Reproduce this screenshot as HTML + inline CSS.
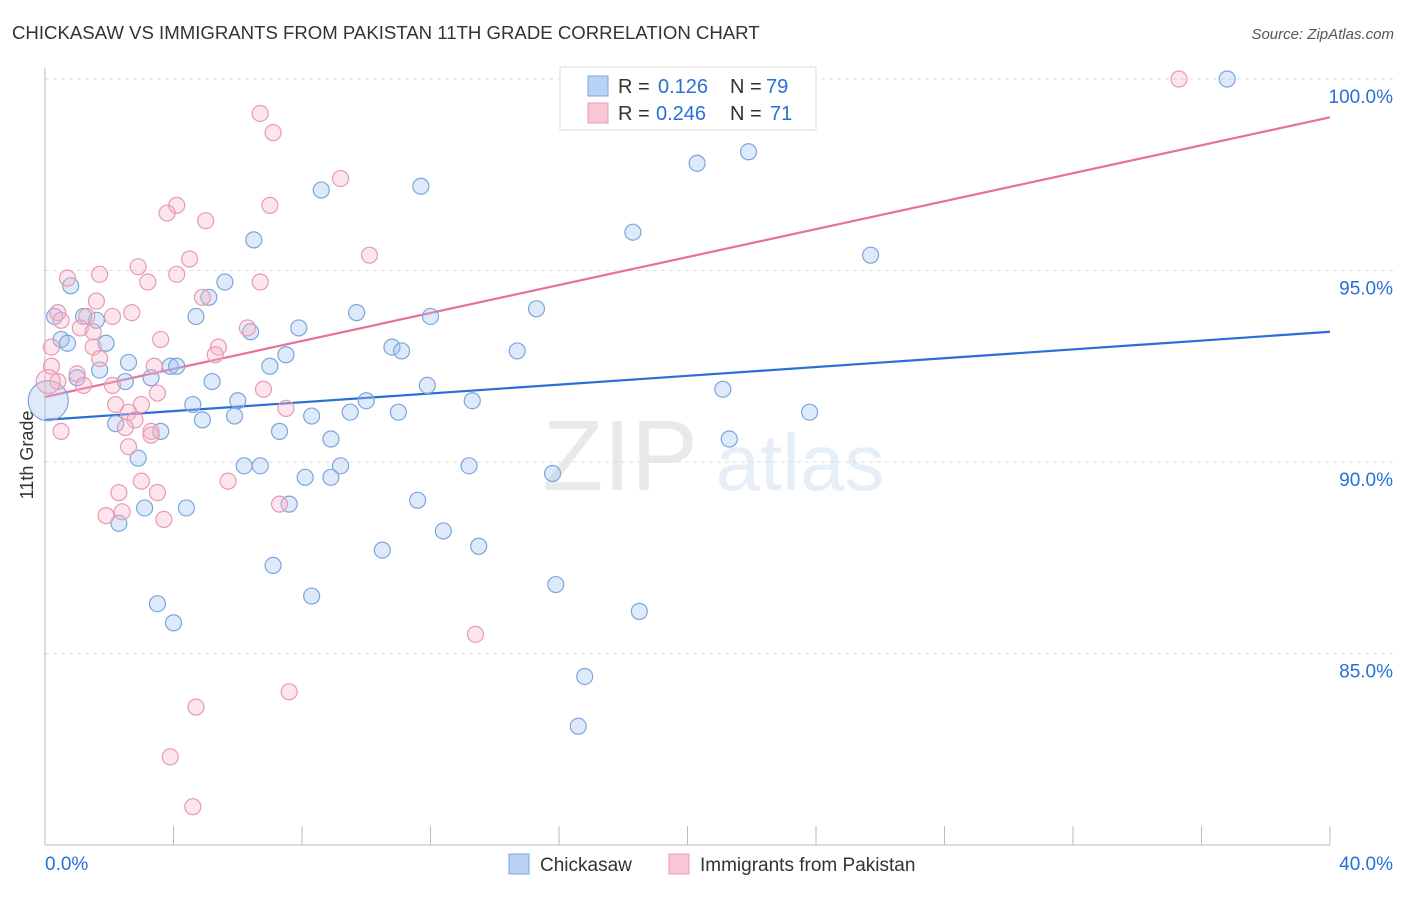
<!DOCTYPE html>
<html><head><meta charset="utf-8"><style>
body{margin:0;background:#fff;font-family:"Liberation Sans",sans-serif}
svg text{font-family:"Liberation Sans",sans-serif}
</style></head><body>
<svg id="chart" width="1406" height="892" xmlns="http://www.w3.org/2000/svg">
<text x="12" y="39" font-size="18.6" fill="#333">CHICKASAW VS IMMIGRANTS FROM PAKISTAN 11TH GRADE CORRELATION CHART</text>
<text x="1394" y="39" font-size="15" fill="#555" text-anchor="end" font-style="italic">Source: ZipAtlas.com</text>
<text transform="translate(33,455) rotate(-90)" font-size="18" fill="#333" text-anchor="middle">11th Grade</text>
<g opacity="0.18">
<text x="620" y="490" font-size="100" font-family="Liberation Serif" fill="#888" text-anchor="middle">ZIP</text>
<text x="800" y="490" font-size="80" fill="#7aa6dc" text-anchor="middle">atlas</text>
</g>
<g id="grid"></g><g id="axes"></g><g id="lines"></g><g id="pts"></g>
<g>
<rect x="560" y="67" width="256" height="63" fill="#fff" stroke="#ddd"/>
<rect x="588" y="76" width="20" height="20" fill="#b9d3f5" stroke="#7aa6dc"/>
<text x="618" y="93" font-size="20" fill="#333">R =</text><text x="658" y="93" font-size="20" fill="#2a6fd6">0.126</text>
<text x="730" y="93" font-size="20" fill="#333">N =</text><text x="766" y="93" font-size="20" fill="#2a6fd6">79</text>
<rect x="588" y="103" width="20" height="20" fill="#f8c6d6" stroke="#e89ab4"/>
<text x="618" y="120" font-size="20" fill="#333">R =</text><text x="656" y="120" font-size="20" fill="#2a6fd6">0.246</text>
<text x="730" y="120" font-size="20" fill="#333">N =</text><text x="770" y="120" font-size="20" fill="#2a6fd6">71</text>
</g>
<g>
<rect x="509" y="854" width="20" height="20" fill="#b9d3f5" stroke="#7aa6dc"/>
<text x="540" y="871" font-size="19" fill="#333">Chickasaw</text>
<rect x="669" y="854" width="20" height="20" fill="#f8c6d6" stroke="#e89ab4"/>
<text x="700" y="871" font-size="19" fill="#333">Immigrants from Pakistan</text>
</g>
</svg>
<script>
const blueX=[36.8,21.9,20.3,11.7,8.6,18.3,6.5,25.7,0.8,5.6,5.1,15.3,9.7,12.0,4.7,0.3,1.6,1.2,7.9,6.4,0.5,0.7,1.9,10.8,11.1,14.7,7.5,2.6,1.7,7.0,3.9,4.1,3.3,1.0,2.5,5.2,11.9,21.1,10.0,6.0,13.3,4.6,9.5,11.0,23.8,8.3,4.9,5.9,2.2,3.6,7.3,8.9,21.3,2.9,6.2,6.7,9.2,13.2,15.8,8.1,8.9,7.6,11.6,3.1,4.4,2.3,12.4,13.5,10.5,7.1,15.9,8.3,3.5,18.5,4.0,16.8,16.6,0.1];
const blueY=[100.0,98.1,97.8,97.2,97.1,96.0,95.8,95.4,94.6,94.7,94.3,94.0,93.9,93.8,93.8,93.8,93.7,93.8,93.5,93.4,93.2,93.1,93.1,93.0,92.9,92.9,92.8,92.6,92.4,92.5,92.5,92.5,92.2,92.2,92.1,92.1,92.0,91.9,91.6,91.6,91.6,91.5,91.3,91.3,91.3,91.2,91.1,91.2,91.0,90.8,90.8,90.6,90.6,90.1,89.9,89.9,89.9,89.9,89.7,89.6,89.6,88.9,89.0,88.8,88.8,88.4,88.2,87.8,87.7,87.3,86.8,86.5,86.3,86.1,85.8,84.4,83.1,91.6];
const pinkX=[35.3,16.4,6.7,7.1,9.2,7.0,4.1,3.8,5.0,10.1,4.5,2.9,0.7,1.7,4.1,3.2,6.7,4.9,1.6,0.4,1.3,2.1,2.7,0.5,1.1,1.5,6.3,3.6,5.4,5.3,1.5,0.2,1.7,0.2,1.0,3.4,0.4,1.2,2.1,6.8,3.5,3.0,2.2,7.5,2.6,2.8,2.5,3.3,3.3,2.6,0.5,5.7,2.3,3.5,3.0,7.3,1.9,2.4,3.7,13.4,7.6,4.7,3.9,4.6,0.1];
const pinkY=[100.0,100.0,99.1,98.6,97.4,96.7,96.7,96.5,96.3,95.4,95.3,95.1,94.8,94.9,94.9,94.7,94.7,94.3,94.2,93.9,93.8,93.8,93.9,93.7,93.5,93.4,93.5,93.2,93.0,92.8,93.0,93.0,92.7,92.5,92.3,92.5,92.1,92.0,92.0,91.9,91.8,91.5,91.5,91.4,91.3,91.1,90.9,90.8,90.7,90.4,90.8,89.5,89.2,89.2,89.5,88.9,88.6,88.7,88.5,85.5,84.0,83.6,82.3,81.0,92.1];
const blueTrend=[91.1,93.4];
const pinkTrend=[91.7,99.0];
const yTicks=[100,95,90,85];
const yTickLabels=["100.0%","95.0%","90.0%","85.0%"];
const xTicks=[0,4,8,12,16,20,24,28,32,36,40];
const xEndLabels=["0.0%","40.0%"];
const NS="http://www.w3.org/2000/svg";
const X=v=>45+v*1285/40, Y=v=>79+(100-v)*38.3;
function mk(t,a,p){const e=document.createElementNS(NS,t);for(const k in a)e.setAttribute(k,a[k]);document.getElementById(p).appendChild(e);return e;}
yTicks.forEach((t,i)=>{
 const l=mk('line',{x1:45,x2:1393,y1:Y(t),y2:Y(t),stroke:'#ddd','stroke-dasharray':'4,4'},'grid');
 
 
 const tx=mk('text',{x:1393,y:Y(t)+24,'font-size':19,fill:'#2a6fd6','text-anchor':'end'},'axes');tx.textContent=yTickLabels[i];
 
 
});
const ax=mk('line',{x1:45,x2:1330,y1:845,y2:845,stroke:'#bbb'},'axes');


const ay=mk('line',{x1:45,x2:45,y1:68,y2:845,stroke:'#bbb'},'axes');


xTicks.forEach(t=>{const l=mk('line',{x1:X(t),x2:X(t),y1:826,y2:845,stroke:'#bbb'},'axes');
 
 });
[[0,'start',45],[1,'end',1393]].forEach(([i,a,x])=>{const t=mk('text',{x:x,y:870,'font-size':19,fill:'#2a6fd6','text-anchor':a},'axes');t.textContent=xEndLabels[i];
 
 });
function pts(xs,ys,fill,stroke,name,bigR){xs.forEach((x,i)=>{const big=i===xs.length-1;
 const c=mk('circle',{cx:X(x),cy:Y(ys[i]),r:big?bigR:8,fill:fill,stroke:stroke,'stroke-width':1.2},'pts');
 
 });}
pts(blueX,blueY,'rgba(160,196,240,0.35)','#7aa6dc','point-chickasaw',20);
pts(pinkX,pinkY,'rgba(245,180,200,0.35)','#e89ab4','point-pakistan',12);
const bl=mk('line',{x1:X(0),y1:Y(blueTrend[0]),x2:X(40),y2:Y(blueTrend[1]),stroke:'#2a6fd6','stroke-width':2.2},'lines');


const pl=mk('line',{x1:X(0),y1:Y(pinkTrend[0]),x2:X(40),y2:Y(pinkTrend[1]),stroke:'#e8709a','stroke-width':2.2},'lines');


</script>
</body></html>
